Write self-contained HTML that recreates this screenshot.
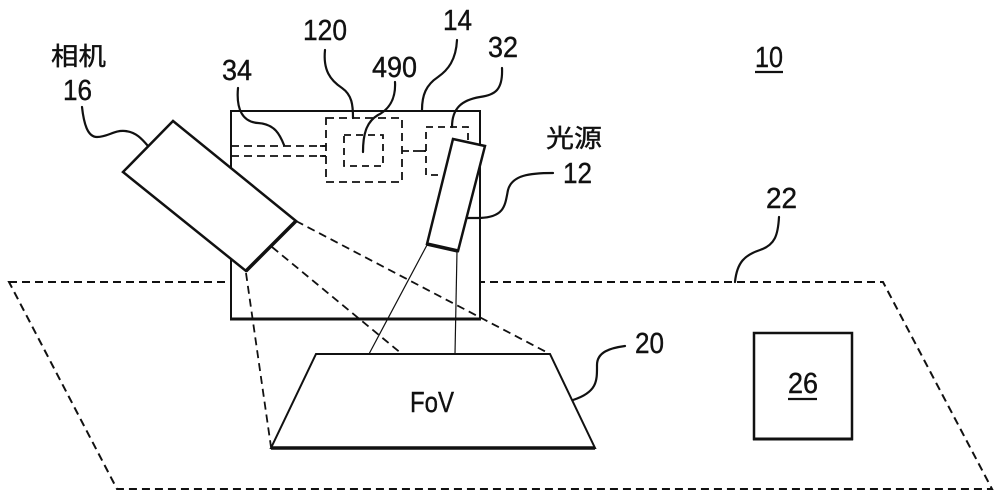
<!DOCTYPE html>
<html>
<head>
<meta charset="utf-8">
<style>
  html, body { margin:0; padding:0; background:#fff; }
  svg { display:block; }
  .t { font-family: "Liberation Sans", "Noto Sans CJK SC", sans-serif; fill:#111; stroke:#111; stroke-width:0.4; }
</style>
</head>
<body>
<svg width="1000" height="499" viewBox="0 0 1000 499" xmlns="http://www.w3.org/2000/svg">
  <rect x="0" y="0" width="1000" height="499" fill="#fff"/>

  <!-- surface 22 (dashed parallelogram) -->
  <polygon points="9,282 883,282 992,489 117,489" fill="none" stroke="#111" stroke-width="2" stroke-dasharray="8,5"/>

  <!-- housing 14 -->
  <rect x="231" y="111" width="249" height="208" fill="#fff" stroke="#111" stroke-width="2"/>
  <line x1="230" y1="319" x2="481" y2="319" stroke="#111" stroke-width="3"/>

  <!-- dashed lines 34 -->
  <line x1="231" y1="146" x2="326" y2="146" stroke="#111" stroke-width="1.8" stroke-dasharray="8,5"/>
  <line x1="231" y1="156" x2="326" y2="156" stroke="#111" stroke-width="1.8" stroke-dasharray="8,5"/>
  <line x1="320" y1="146" x2="326" y2="146" stroke="#111" stroke-width="1.8"/>
  <line x1="320" y1="156" x2="326" y2="156" stroke="#111" stroke-width="1.8"/>
  <!-- box 120 -->
  <rect x="326" y="118" width="76" height="64" fill="none" stroke="#111" stroke-width="1.8" stroke-dasharray="8,5"/>
  <!-- box 490 -->
  <rect x="344" y="135" width="39" height="31" fill="none" stroke="#111" stroke-width="1.8" stroke-dasharray="7,5"/>
  <!-- connection 120-32 -->
  <line x1="402" y1="151" x2="426" y2="151" stroke="#111" stroke-width="1.8" stroke-dasharray="7,4"/>
  <line x1="420" y1="151" x2="426" y2="151" stroke="#111" stroke-width="1.8"/>
  <!-- box 32 -->
  <rect x="426" y="127" width="42" height="48" fill="none" stroke="#111" stroke-width="1.8" stroke-dasharray="7,5"/>

  <!-- camera dashed FOV lines -->
  <line x1="246" y1="273" x2="271" y2="447" stroke="#111" stroke-width="1.8" stroke-dasharray="8,5"/>
  <line x1="272" y1="247" x2="402" y2="354" stroke="#111" stroke-width="1.8" stroke-dasharray="8,5"/>
  <line x1="296" y1="221" x2="550" y2="354" stroke="#111" stroke-width="1.8" stroke-dasharray="8,5"/>

  <!-- light lines -->
  <line x1="427" y1="245" x2="369" y2="354" stroke="#111" stroke-width="1.2"/>
  <line x1="457" y1="251" x2="455" y2="354" stroke="#111" stroke-width="1.2"/>

  <!-- camera 16 -->
  <polygon points="173,121 123,172 246,271 296,221" fill="#fff" stroke="#111" stroke-width="2.5" stroke-linejoin="miter"/>
  <line x1="246" y1="271" x2="296" y2="221" stroke="#111" stroke-width="3.5"/>

  <!-- light source 12 -->
  <polygon points="453,139 485,146 458,251 427,244" fill="#fff" stroke="#111" stroke-width="2.5"/>
  <line x1="427" y1="244" x2="458" y2="251" stroke="#111" stroke-width="3.5"/>
  <!-- housing right edge visible beside light -->
  <line x1="480" y1="165" x2="480" y2="319" stroke="#111" stroke-width="2"/>

  <!-- FoV trapezoid 20 -->
  <polygon points="316,354 550,354 595,448 271,448" fill="#fff" stroke="#111" stroke-width="2"/>
  <line x1="271" y1="448" x2="595" y2="448" stroke="#111" stroke-width="3.5"/>

  <!-- object 26 -->
  <rect x="754" y="333" width="98" height="106" fill="#fff" stroke="#111" stroke-width="2.5"/>
  <line x1="753" y1="439" x2="853" y2="439" stroke="#111" stroke-width="3"/>

  <!-- leaders -->
  <g fill="none" stroke="#111" stroke-width="2.2" stroke-linecap="round">
    <path d="M82,107 C84,125 88,137 97,137 C108,137 114,130 125,131 C136,132 142,139 148,146"/>
    <path d="M238,88 C236,110 243,122 258,123 C275,124 280,135 284,145"/>
    <path d="M325,50 C323,70 330,80 342,88 C352,95 353,105 353,118"/>
    <path d="M395,82 C396,100 388,110 378,115 C366,122 363,135 363,152"/>
    <path d="M457,40 C456,60 448,70 438,77 C426,85 422,95 422,110"/>
    <path d="M502,68 C503,90 495,95 480,97 C462,100 452,108 452,127"/>
    <path d="M553,173 C530,173 512,175 508,190 C505,205 505,217 480,218 L467,218"/>
    <path d="M625,346 C610,348 597,352 597,365 C597,380 598,392 573,400"/>
    <path d="M779,217 C778,235 775,245 760,250 C745,255 737,262 735,282"/>
  </g>

  <!-- labels -->
  <g class="t" font-size="29">
    <text x="303" y="40" textLength="44" lengthAdjust="spacingAndGlyphs">120</text>
    <text x="443" y="30" textLength="29" lengthAdjust="spacingAndGlyphs">14</text>
    <text x="372" y="77" textLength="45" lengthAdjust="spacingAndGlyphs">490</text>
    <text x="222" y="80" textLength="30" lengthAdjust="spacingAndGlyphs">34</text>
    <text x="488" y="57" textLength="30" lengthAdjust="spacingAndGlyphs">32</text>
    <text x="63" y="100" textLength="29" lengthAdjust="spacingAndGlyphs">16</text>
    <text x="563" y="183" textLength="29" lengthAdjust="spacingAndGlyphs">12</text>
    <text x="755" y="67" textLength="28" lengthAdjust="spacingAndGlyphs">10</text>
    <text x="766" y="208" textLength="31" lengthAdjust="spacingAndGlyphs">22</text>
    <text x="635" y="353" textLength="29" lengthAdjust="spacingAndGlyphs">20</text>
    <text x="788" y="393" textLength="30" lengthAdjust="spacingAndGlyphs">26</text>
    <text x="410" y="412" textLength="44" lengthAdjust="spacingAndGlyphs">FoV</text>
  </g>
  <line x1="755" y1="72" x2="783" y2="72" stroke="#111" stroke-width="2.2"/>
  <line x1="788" y1="399" x2="817" y2="399" stroke="#111" stroke-width="2.2"/>

  <g class="t" font-size="25">
    <text x="51" y="65" textLength="55" lengthAdjust="spacingAndGlyphs">相机</text>
    <text x="546" y="147" textLength="56" lengthAdjust="spacingAndGlyphs">光源</text>
  </g>
</svg>
</body>
</html>
